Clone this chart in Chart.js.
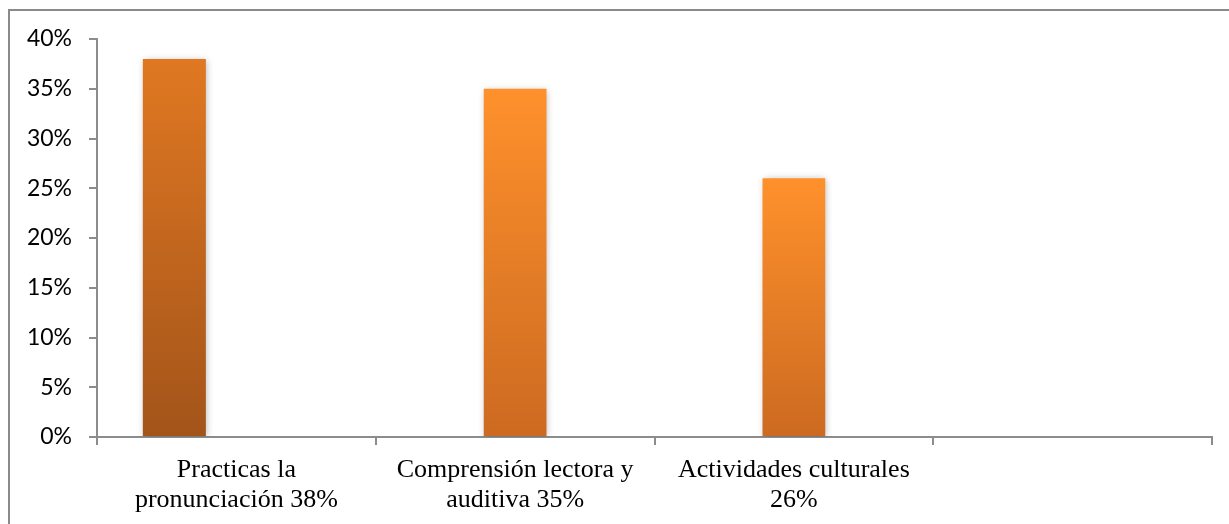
<!DOCTYPE html>
<html>
<head>
<meta charset="utf-8">
<script src="https://cdn.jsdelivr.net/npm/chart.js@4"></script>
<style>
  html, body { margin: 0; padding: 0; background: #ffffff; }
  #wrap { position: relative; width: 1229px; height: 524px; overflow: hidden; background: #ffffff; }
  #frame { position: absolute; left: 8px; top: 9px; width: 1300px; height: 600px;
           border-left: 2px solid #8a8a8a; border-top: 2px solid #8a8a8a; pointer-events: none; }
  canvas { position: absolute; left: 0; top: 0; }
</style>
</head>
<body>
<div id="wrap">
  <canvas id="c" width="1229" height="524"></canvas>
  <div id="frame"></div>
</div>
<script>
// ---- data ----
const categories = [
  ["Practicas la", "pronunciación 38%"],
  ["Comprensión lectora y", "auditiva 35%"],
  ["Actividades culturales", "26%"],
  ""
];
const pronunciationValues = [38, null, null, null];   // first bar (darker)
const otherValues = [null, 35, 26, null];             // remaining bars
const yMin = 0, yMax = 40, yStep = 5;

function gradientFill(topColor, bottomColor, fallback) {
  return (ctx) => {
    const chart = ctx.chart;
    if (!chart.chartArea || ctx.raw == null) return fallback;
    const ys = chart.scales.y;
    const top = ys.getPixelForValue(ctx.raw);
    const bottom = ys.getPixelForValue(0);
    if (!isFinite(top) || !isFinite(bottom) || top === bottom) return fallback;
    const g = chart.ctx.createLinearGradient(0, top, 0, bottom);
    g.addColorStop(0, topColor);
    g.addColorStop(1, bottomColor);
    return g;
  };
}

const shadowPlugin = {
  id: 'barShadow',
  beforeDatasetsDraw(chart) {
    const c = chart.ctx;
    c.save();
    c.shadowColor = 'rgba(0,0,0,0.28)';
    c.shadowBlur = 7;
    c.shadowOffsetX = 1;
    c.shadowOffsetY = 1;
  },
  afterDatasetsDraw(chart) {
    chart.ctx.restore();
  }
};

new Chart(document.getElementById('c'), {
  type: 'bar',
  data: {
    labels: categories,
    datasets: [
      {
        label: 'Practicas la pronunciación',
        data: pronunciationValues,
        backgroundColor: gradientFill('#E07822', '#A3541A', '#C4661E'),
        categoryPercentage: 0.89,
        barPercentage: 0.508,
        skipNull: false
      },
      {
        label: 'Otras',
        data: otherValues,
        backgroundColor: gradientFill('#FF912C', '#CC6A21', '#E67D27'),
        categoryPercentage: 0.45,
        barPercentage: 0.5,
        skipNull: true
      }
    ]
  },
  options: {
    responsive: false,
    animation: false,
    devicePixelRatio: 1,
    layout: { padding: { top: 39, right: 17, bottom: 0, left: 0 } },
    plugins: {
      legend: { display: false },
      tooltip: { enabled: false }
    },
    scales: {
      x: {
        grid: {
          display: true,
          offset: true,
          drawOnChartArea: false,
          drawTicks: true,
          tickLength: 8,
          color: '#8c8c8c',
          lineWidth: 2
        },
        border: { display: true, color: '#8c8c8c', width: 2 },
        ticks: {
          autoSkip: false,
          maxRotation: 0,
          minRotation: 0,
          color: '#000000',
          padding: 11,
          font: { family: '"Liberation Serif", "Times New Roman", serif', size: 26, lineHeight: 1.12 }
        },
        afterFit(scale) { scale.height = 87; }
      },
      y: {
        min: yMin,
        max: yMax,
        grid: {
          display: true,
          drawOnChartArea: false,
          drawTicks: true,
          tickLength: 8,
          color: '#8c8c8c',
          lineWidth: 2
        },
        border: { display: true, color: '#8c8c8c', width: 2 },
        ticks: {
          stepSize: yStep,
          color: '#000000',
          padding: 17,
          font: { family: 'Lato, "Open Sans", sans-serif', size: 23 },
          callback: (v) => v + '%'
        },
        afterFit(scale) { scale.width = 97; }
      }
    }
  },
  plugins: [shadowPlugin]
});
</script>
</body>
</html>
